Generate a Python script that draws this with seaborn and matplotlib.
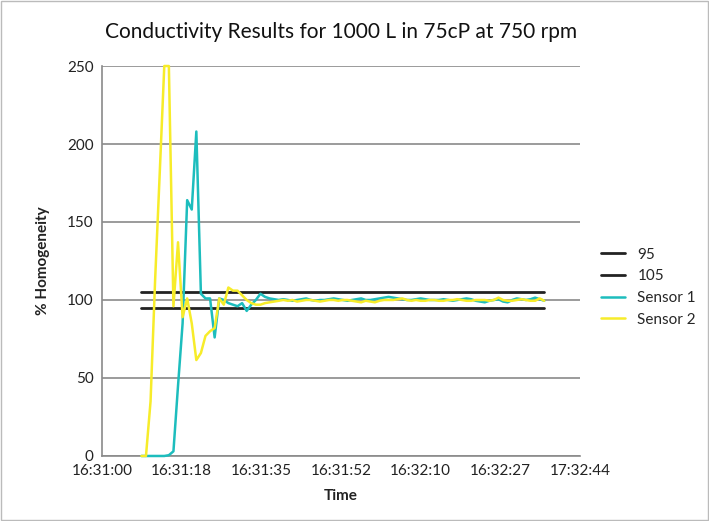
import numpy as np
import pandas as pd
import matplotlib.pyplot as plt
import seaborn as sns
from matplotlib.patches import Rectangle

# sample readings, one per second starting about 16:31:08.6
start_sec = 8.6
sensor1 = [0, 0, 0, 0, 0, 0, 0.5, 3, 45, 85, 164, 158, 208, 104, 101, 101, 76, 101, 100, 98,
           97, 96, 98, 93, 97, 100, 104, 102, 101, 100.5,
           100, 100.5, 100, 99.5, 100, 100.5, 101, 100, 99.5, 100,
           100, 100.5, 101, 100.5, 100, 99.5, 100, 100.5, 101, 100,
           100, 100.5, 101, 101.5, 102, 101.5, 101, 100.5, 100, 100,
           100.5, 101, 100.5, 100, 100, 100, 100.5, 100, 99.5, 100,
           100.5, 101, 100.5, 99.5, 99, 98.5, 99.5, 100, 100.5, 99,
           98.5, 100, 101, 100.5, 100, 100.5, 101.5, 100.5, 99.5]
sensor2 = [0, 0, 35, 113, 181, 250, 250, 96, 137, 89, 101, 85, 61.5, 66, 77, 80, 82, 101, 97, 108,
           106, 106, 103, 100, 98, 97, 97, 98, 98.5, 99,
           99.5, 100, 99.5, 100, 99, 99.5, 100, 100, 99.5, 99,
           99.5, 100, 100, 99.5, 100, 100, 99.5, 99, 98.5, 99.5,
           99, 98.5, 99.5, 100, 100, 100, 100.5, 101, 100, 99.5,
           100, 99.5, 99.5, 100, 100, 99.5, 99.5, 100, 100, 100.5,
           100, 99.5, 99.5, 100, 100, 100, 99.5, 100, 101.5, 100,
           99.5, 99.5, 100, 100.5, 100, 99.5, 99.5, 101, 99.5]
lower_limit = 95
upper_limit = 105
tick_labels = ['16:31:00', '16:31:18', '16:31:35', '16:31:52', '16:32:10', '16:32:27', '17:32:44']

secs = start_sec + np.arange(len(sensor1))
df = pd.DataFrame({'Time': secs, 'Sensor 1': sensor1, 'Sensor 2': sensor2})
df['95'] = lower_limit
df['105'] = upper_limit

sns.set_theme(style='white')
plt.rcParams['font.family'] = ['Lato', 'DejaVu Sans']

fig = plt.figure(figsize=(7.09, 5.21), dpi=100)
ax = fig.add_axes([0.1439, 0.1248, 0.6741, 0.7485])

styles = {'95': ('#222222', 2.0), '105': ('#222222', 2.0),
          'Sensor 1': ('#1DBDBD', 1.8), 'Sensor 2': ('#F7EC2A', 1.8)}
for name, (col, lw) in styles.items():
    sns.lineplot(data=df, x='Time', y=name, ax=ax, color=col, linewidth=lw, label=name, clip_on=False)

ax.set_xlim(0, 104.4)
ax.set_ylim(0, 250)
ax.set_xticks(np.arange(len(tick_labels)) * 17.4)
ax.set_xticklabels(tick_labels)
ax.set_yticks([0, 50, 100, 150, 200, 250])
ax.yaxis.grid(True, color='#8a8a8a', linewidth=1.2)
ax.set_axisbelow(True)
ax.tick_params(length=0, labelsize=11, colors='#222222', pad=6)
for s in ['top', 'right']:
    ax.spines[s].set_visible(False)
for s in ['left', 'bottom']:
    ax.spines[s].set_color('#8a8a8a')
    ax.spines[s].set_linewidth(1.2)
    ax.spines[s].set_zorder(0.5)

ax.set_xlabel('Time', fontsize=11, fontweight='bold', color='#222222', labelpad=8)
ax.set_ylabel('% Homogeneity', fontsize=11, fontweight='bold', color='#222222', labelpad=12)
ax.set_title('Conductivity Results for 1000 L in 75cP at 750 rpm', fontsize=15, color='#111111', pad=20)

ax.legend(loc='center left', bbox_to_anchor=(0.828, 0.449), bbox_transform=fig.transFigure,
          frameon=False, fontsize=11, handlelength=1.6, labelspacing=0.5)

fig.patches.append(Rectangle((0.001, 0.001), 0.998, 0.998, transform=fig.transFigure,
                             fill=False, edgecolor='#bbbbbb', linewidth=1))

plt.savefig('out.png', dpi=100)
